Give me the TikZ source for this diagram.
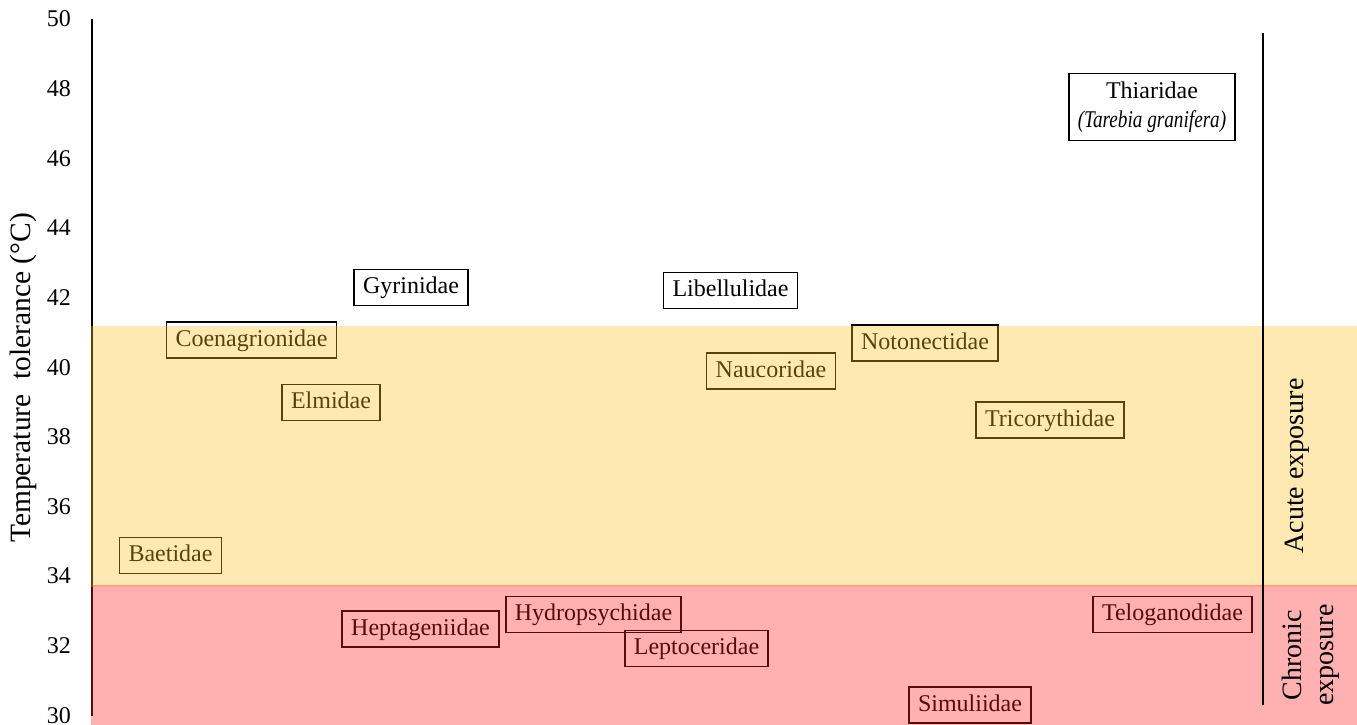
\documentclass[tikz,border=0pt]{standalone}
\usepackage{fontspec}
\setmainfont{Liberation Serif}
\definecolor{bandY}{RGB}{255,192,35}
\definecolor{bandR}{RGB}{255,29,29}
\begin{document}
\begin{tikzpicture}[x=1pt,y=-1pt,
  taxbox/.style={draw=black, line width=1.5pt, inner xsep=9pt, inner ysep=7pt, text height=17pt, text depth=5pt, font=\fontsize{24}{29}\selectfont},
  ticklab/.style={anchor=east, inner sep=0pt, text height=16pt, text depth=0pt, font=\fontsize{24}{29}\selectfont},
  sidelab/.style={rotate=90, font=\fontsize{28}{32}\selectfont, align=center, inner sep=0pt},
  axisline/.style={line width=2pt, black}]
\useasboundingbox (0,0) rectangle (1357,725);
% axis
\coordinate (axtop) at (92,19);
\coordinate (axbot) at (92,716);
\draw[axisline] (axtop) -- (axbot);
\foreach \v in {30,32,...,50}{
  \node[ticklab] (tick\v) at (71,{19+(50-\v)*34.8}) {\v};
}
\node[sidelab, font=\fontsize{29.5}{32}\selectfont] (ytitle) at (23,378) {Temperature\ \ tolerance (°C)};
% taxa
\node[taxbox, align=center, text height=, text depth=, inner ysep=8pt] (thia) at (1152,107) {Thiaridae\\\scalebox{0.8}[1]{\textit{(Tarebia granifera)}}};
\node[taxbox] (gyri) at (411,287.5) {Gyrinidae};
\node[taxbox] (libe) at (730.5,290.5) {Libellulidae};
\node[taxbox] (coen) at (251.5,340) {Coenagrionidae};
\node[taxbox] (elmi) at (331,402.5) {Elmidae};
\node[taxbox] (noto) at (925,343) {Notonectidae};
\node[taxbox] (nauc) at (771,371) {Naucoridae};
\node[taxbox] (tric) at (1050,420) {Tricorythidae};
\node[taxbox] (baet) at (170.5,555.5) {Baetidae};
\node[taxbox] (hept) at (420.5,629) {Heptageniidae};
\node[taxbox] (hydr) at (593.5,614.5) {Hydropsychidae};
\node[taxbox] (lept) at (696.5,648.5) {Leptoceridae};
\node[taxbox] (telo) at (1172.5,614.5) {Teloganodidae};
\node[taxbox] (simu) at (970,705) {Simuliidae};
% bands
\fill[bandY, opacity=.35] (91,325.5) rectangle (1357,587);
\fill[bandR, opacity=.35] (91,585) rectangle (1357,725);
% right separator and labels
\coordinate (septop) at (1263,33);
\coordinate (sepbot) at (1263,705);
\draw[axisline] (septop) -- (sepbot);
\node[sidelab] (acute) at (1297,466) {Acute exposure};
\node[sidelab] (chronic) at (1311,655) {Chronic\\exposure};
\end{tikzpicture}
\end{document}
